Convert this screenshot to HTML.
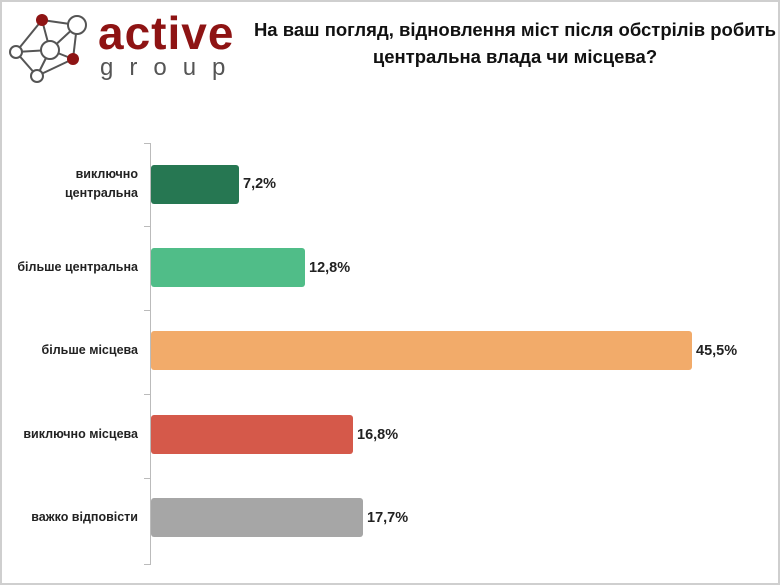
<!DOCTYPE html>
<html><head><meta charset="utf-8"><style>
body{margin:0;width:780px;height:585px;background:#fff;position:relative;overflow:hidden;font-family:"Liberation Sans",sans-serif}
.frame{position:absolute;left:0;top:0;width:776px;height:581px;border:2px solid #cfcfcf}
.t{position:absolute;left:248px;width:534px;top:16px;text-align:center;font-weight:bold;font-size:18.5px;line-height:27px;color:#111}
.lab{position:absolute;right:642px;text-align:right;font-weight:bold;font-size:12.5px;line-height:19px;color:#222}
.bar{position:absolute;left:151px;height:39px;border-radius:3px}
.v{position:absolute;font-weight:bold;font-size:14.5px;color:#222}
.axis{position:absolute;left:150px;top:143px;width:1px;height:422px;background:#bbb}
.tick{position:absolute;left:144px;width:6px;height:1px;background:#bbb}
</style></head><body>
<div class="frame"></div>
<svg style="position:absolute;left:0;top:0" width="100" height="90">
<g stroke="#555" stroke-width="2" fill="none">
<line x1="42" y1="20" x2="77" y2="25"/><line x1="42" y1="20" x2="16" y2="52"/><line x1="42" y1="20" x2="50" y2="50"/>
<line x1="77" y1="25" x2="50" y2="50"/><line x1="77" y1="25" x2="73" y2="59"/><line x1="16" y1="52" x2="50" y2="50"/>
<line x1="16" y1="52" x2="37" y2="76"/><line x1="50" y1="50" x2="37" y2="76"/><line x1="73" y1="59" x2="37" y2="76"/><line x1="50" y1="50" x2="73" y2="59"/>
</g>
<circle cx="42" cy="20" r="6" fill="#8e1414"/>
<circle cx="77" cy="25" r="9" fill="#fff" stroke="#555" stroke-width="2"/>
<circle cx="50" cy="50" r="9" fill="#fff" stroke="#555" stroke-width="2"/>
<circle cx="16" cy="52" r="6" fill="#fff" stroke="#555" stroke-width="2"/>
<circle cx="73" cy="59" r="6" fill="#8e1414"/>
<circle cx="37" cy="76" r="6" fill="#fff" stroke="#555" stroke-width="2"/>
</svg>
<div style="position:absolute;left:98px;top:8px;font-size:46px;font-weight:bold;color:#8e1414;line-height:50px;letter-spacing:1px">active</div>
<div style="position:absolute;left:100px;top:54px;font-size:24px;color:#555;letter-spacing:16px;line-height:28px">group</div>
<div class="t">На ваш погляд, відновлення міст після обстрілів робить<br>центральна влада чи місцева?</div>
<div class="axis"></div>
<div class="tick" style="top:143px"></div><div class="tick" style="top:226px"></div><div class="tick" style="top:310px"></div><div class="tick" style="top:394px"></div><div class="tick" style="top:478px"></div><div class="tick" style="top:564px"></div>
<div class="lab" style="top:165px">виключно<br>центральна</div>
<div class="lab" style="top:258px">більше центральна</div>
<div class="lab" style="top:341px">більше місцева</div>
<div class="lab" style="top:425px">виключно місцева</div>
<div class="lab" style="top:508px">важко відповісти</div>
<div class="bar" style="top:165px;width:88px;background:#267752"></div>
<div class="bar" style="top:248px;width:154px;background:#50bd88"></div>
<div class="bar" style="top:331px;width:541px;background:#f2ab6a"></div>
<div class="bar" style="top:415px;width:202px;background:#d5594a"></div>
<div class="bar" style="top:498px;width:212px;background:#a6a6a6"></div>
<div class="v" style="left:243px;top:176px">7,2%</div>
<div class="v" style="left:309px;top:260px">12,8%</div>
<div class="v" style="left:696px;top:343px">45,5%</div>
<div class="v" style="left:357px;top:427px">16,8%</div>
<div class="v" style="left:367px;top:510px">17,7%</div>
</body></html>
